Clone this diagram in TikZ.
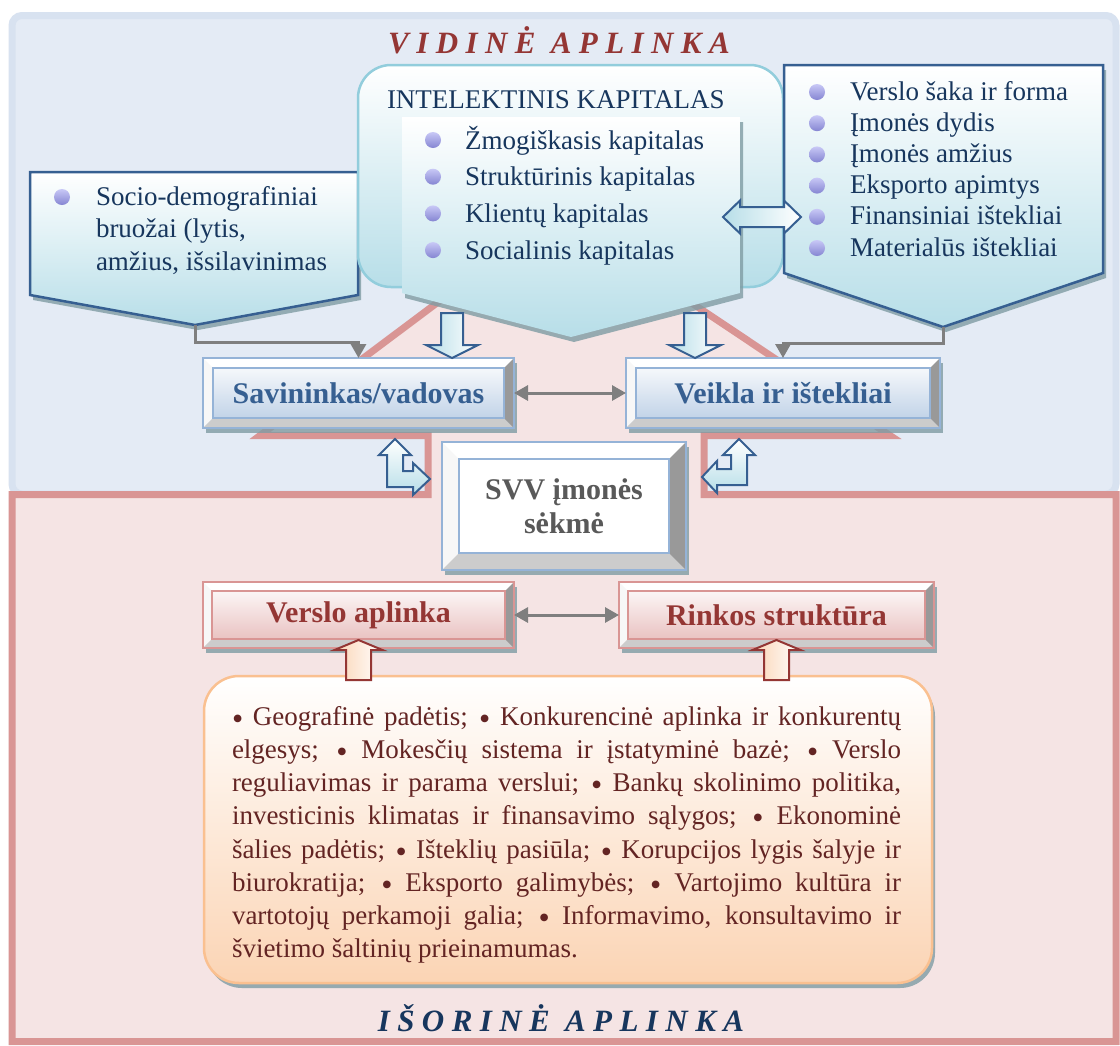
\documentclass[tikz,border=0pt]{standalone}
\usepackage{fontspec}
\setmainfont{Liberation Serif}
\usepackage{xcolor}
\usetikzlibrary{shapes.geometric, arrows.meta, positioning, calc, shadows}

\definecolor{bgblue}{HTML}{E4EBF5}
\definecolor{bgblueedge}{HTML}{D8E2F0}
\definecolor{bgpink}{HTML}{F5E4E4}
\definecolor{pinkedge}{HTML}{D99594}
\definecolor{darkred}{HTML}{943634}
\definecolor{navy}{HTML}{17365D}
\definecolor{midblue}{HTML}{365F91}
\definecolor{lightblue}{HTML}{95B3D7}
\definecolor{tealface}{HTML}{B7DEE8}
\definecolor{tealedge}{HTML}{92CDDC}
\definecolor{blueface}{HTML}{B8CCE4}
\definecolor{pinkface}{HTML}{E6B9B8}
\definecolor{peach}{HTML}{FBD4B4}
\definecolor{peachedge}{HTML}{FAC090}
\definecolor{extbrown}{HTML}{632423}
\definecolor{svvgray}{HTML}{595959}
\definecolor{linkgray}{HTML}{7F7F7F}
\definecolor{lavtop}{HTML}{C8C8F6}
\definecolor{lavbot}{HTML}{8585D2}
\definecolor{shadowcol}{HTML}{7F9CA3}

\newcommand{\extdot}{\raisebox{-4pt}{\fontsize{32}{33}\selectfont •}}

\begin{document}
\begin{tikzpicture}[x=1pt, y=1pt,
    every node/.style={inner sep=0pt, outer sep=0pt},
    shadowed/.style={drop shadow={shadow xshift=3pt, shadow yshift=-5pt, fill=shadowcol, opacity=.8}},
    bevel width/.store in=\bevw,
    bevel/.style={draw=#1, line width=2.5pt, shadowed, path picture={
        \coordinate (bnw) at (path picture bounding box.north west);
        \coordinate (bne) at (path picture bounding box.north east);
        \coordinate (bsw) at (path picture bounding box.south west);
        \coordinate (bse) at (path picture bounding box.south east);
        \fill[white] (bnw) -- (bne) -- ($(bne)+(-\bevw,-\bevw)$) -- ($(bnw)+(\bevw,-\bevw)$) -- cycle;
        \fill[white!94!gray] (bnw) -- ($(bnw)+(\bevw,-\bevw)$) -- ($(bsw)+(\bevw,\bevw)$) -- (bsw) -- cycle;
        \fill[gray!40] (bsw) -- ($(bsw)+(\bevw,\bevw)$) -- ($(bse)+(-\bevw,\bevw)$) -- (bse) -- cycle;
        \fill[gray!80] (bne) -- (bse) -- ($(bse)+(-\bevw,\bevw)$) -- ($(bne)+(-\bevw,-\bevw)$) -- cycle;
        \draw[#1, line width=1.5pt] ($(bnw)+(\bevw,-\bevw)$) rectangle ($(bse)+(-\bevw,\bevw)$);
    }},
    ownerbox/.style={bevel width=10, bevel=lightblue, top color=white, bottom color=blueface, text=midblue,
        font=\bfseries\fontsize{30}{34}\selectfont, minimum width=311pt, minimum height=70pt},
    envbox/.style={bevel width=9, bevel=pinkedge, top color=white, bottom color=pinkface, text=darkred,
        font=\bfseries\fontsize{30}{34}\selectfont, minimum width=311pt, minimum height=66pt},
    svvbox/.style={bevel width=17, bevel=lightblue, fill=white, text=svvgray, align=center,
        font=\bfseries\fontsize{30}{34}\selectfont, minimum width=244pt, minimum height=128pt},
    innerzone/.style={draw=bgblueedge, fill=bgblue, line width=7pt, rounded corners=10pt},
    outerzone/.style={draw=pinkedge, fill=bgpink, line width=7pt, miter limit=20},
    zonetitle/.style={anchor=base, font=\bfseries\itshape\fontsize{31}{34}\selectfont\addfontfeature{LetterSpace=24}},
    intelbox/.style={draw=tealedge, line width=2.5pt, rounded corners=33pt, top color=white, bottom color=tealface,
        minimum width=425pt, minimum height=222pt},
    panel/.style={top color=white, bottom color=tealface, shadowed},
    callout/.style={panel, draw=midblue, line width=2.5pt},
    extbox/.style={draw=peachedge, line width=2.5pt, rounded corners=35pt, top color=white, bottom color=peach,
        shadowed, minimum width=728pt, minimum height=307pt},
    exttext/.style={text width=669pt, align=justify, text=extbrown, font=\fontsize{27}{33.2}\selectfont},
    item/.style={anchor=base west, text=navy, font=\fontsize{27}{32}\selectfont},
    bul/.style={circle, minimum size=16pt, top color=lavtop, bottom color=lavbot},
    link/.style={draw=linkgray, line width=3pt, -{Triangle[length=14pt,width=15pt]}},
    twolink/.style={link, {Triangle[length=14pt,width=15pt]}-{Triangle[length=14pt,width=15pt]}},
    blkarrow/.style={draw=midblue, line width=2pt, left color=tealface, right color=white},
    peacharrow/.style={draw=darkred, line width=2pt, left color=peach, right color=white},
    downblk/.pic={\path[blkarrow] (-11,45) -- (11,45) -- (11,13) -- (26,13) -- (0,0) -- (-26,13) -- (-11,13) -- cycle;},
    lrblk/.pic={\path[blkarrow] (-39,0) -- (-22,16.5) -- (-22,10) -- (22,10) -- (22,16.5) -- (39,0) -- (22,-16.5) -- (22,-10) -- (-22,-10) -- (-22,-16.5) -- cycle;},
    upblk/.pic={\path[peacharrow] (0,0) -- (24,-10) -- (12.5,-10) -- (12.5,-40) -- (-12.5,-40) -- (-12.5,-10) -- (-24,-10) -- cycle;}
]
\useasboundingbox (0,0) rectangle (1120,-1045);
\fill[white] (0,0) rectangle (1120,-1045);

% zones
\draw[innerzone] (12,-15.5) rectangle (1116,-494);
\draw[outerzone] (12,-494.5) -- (428,-494.5) -- (428,-435.5) -- (260,-435.5) -- (557,-213) -- (890,-435.5)
    -- (704,-435.5) -- (704,-494.5) -- (1116,-494.5) -- (1116,-1041.5) -- (12,-1041.5) -- cycle;
\node[zonetitle, text=darkred] (vidine) at (559,-53) {VIDINĖ APLINKA};

% callouts of the inner zone
\path[callout] (30,-172) -- (358,-172) -- (358,-295) -- (195,-325) coordinate (soctip) -- (30,-295) -- cycle;
\node[intelbox] (intel) at (570.5,-176) {};
\node[item] (inteltitle) at (387,-108) {INTELEKTINIS KAPITALAS};
\path[panel] (402,-117) -- (740,-117) -- (740,-293) -- (571,-337) coordinate (inteltip) -- (402,-293) -- cycle;
\path[callout] (784,-65) -- (1103,-65) -- (1103,-273) -- (943,-327) coordinate (rtip) -- (784,-273) -- cycle;
\pic at (762,-217) {lrblk};

\node[bul] (sb) at (62,-197) {};
\foreach \t [count=\i] in {Socio-demografiniai, {bruožai (lytis,}, {amžius, išsilavinimas}}
    \node[item] (sk\i) at (96,{-205-32.5*(\i-1)}) {\t};
\foreach \t [count=\i] in {Žmogiškasis kapitalas, Struktūrinis kapitalas, Klientų kapitalas, Socialinis kapitalas} {
    \node[bul] (ib\i) at (433,{-140-36.7*(\i-1)}) {};
    \node[item] (ik\i) at (465,{-149-36.7*(\i-1)}) {\t};
}
\foreach \t [count=\i] in {Verslo šaka ir forma, Įmonės dydis, Įmonės amžius, Eksporto apimtys, Finansiniai ištekliai, Materialūs ištekliai} {
    \node[bul] (rb\i) at (817,{-92-31.2*(\i-1)}) {};
    \node[item] (rk\i) at (850,{-100-31.2*(\i-1)}) {\t};
}

% factor boxes
\node[ownerbox] (sav) at (358.5,-393) {Savininkas/vadovas};
\node[ownerbox, minimum width=314pt, right=112pt of sav] (veik) {Veikla ir ištekliai};
\node[svvbox] (svv) at (564,-506) {SVV įmonės\\sėkmė};
\node[envbox, below=154pt of sav] (verslo) {Verslo aplinka};
\node[envbox, minimum width=315pt, right=105pt of verslo] (rinkos) {Rinkos struktūra};

\draw[link] (soctip) -- ++(0,-17) -| (sav.north);
\draw[link] (rtip) -- ++(0,-16) -| (veik.north);
\draw[twolink] (sav) -- (veik);
\draw[twolink] (verslo) -- (rinkos);

\pic at ([xshift=93.5pt]sav.north) {downblk};
\pic at ([xshift=-88pt]veik.north) {downblk};
\path[blkarrow, top color=white, bottom color=tealface] (387,-455) -- (379,-455) -- (395,-439) -- (411,-455) -- (403,-455)
    -- (403,-471) -- (413,-471) -- (413,-463) -- (430,-479) -- (413,-495) -- (413,-487) -- (387,-487) -- cycle;
\path[blkarrow, top color=white, bottom color=tealface] (731,-455) -- (723,-455) -- (739,-439) -- (755,-455) -- (747,-455)
    -- (747,-485) -- (717,-485) -- (717,-493) -- (702,-477) -- (717,-461) -- (717,-469) -- (731,-469) -- cycle;

% outer zone factors
\node[extbox] (ext) at (568,-829.5) {};
\node[exttext, anchor=north west] (extlist) at ([shift={(28,-26)}]ext.north west) {\noindent\strut
\extdot{} Geografinė padėtis; \extdot{} Konkurencinė aplinka ir konkurentų\linebreak
elgesys; \extdot{} Mokesčių sistema ir įstatyminė bazė; \extdot{} Verslo\linebreak
reguliavimas ir parama verslui; \extdot{} Bankų skolinimo politika,\linebreak
investicinis klimatas ir finansavimo sąlygos; \extdot{} Ekonominė\linebreak
šalies padėtis; \extdot{} Išteklių pasiūla; \extdot{} Korupcijos lygis šalyje ir\linebreak
biurokratija; \extdot{} Eksporto galimybės; \extdot{} Vartojimo kultūra ir\linebreak
vartotojų perkamoji galia; \extdot{} Informavimo, konsultavimo ir\linebreak
švietimo šaltinių prieinamumas.};
\pic at ([yshift=8pt]verslo.south) {upblk};
\pic at ([yshift=8pt]rinkos.south) {upblk};

\node[zonetitle, text=navy] (isorine) at (561,-1031) {IŠORINĖ APLINKA};
\end{tikzpicture}
\end{document}
